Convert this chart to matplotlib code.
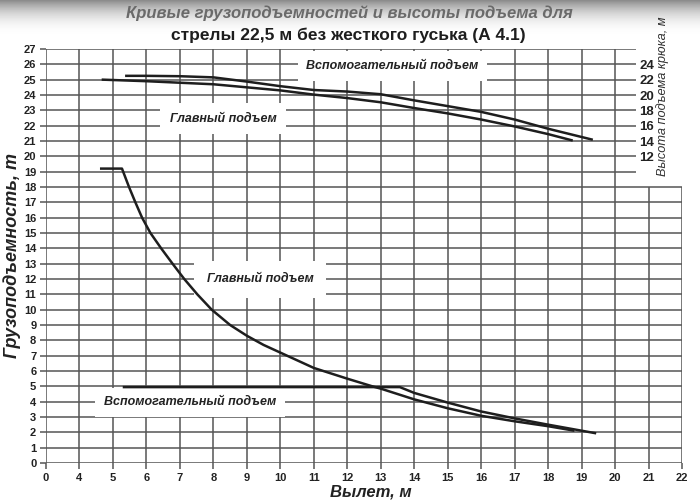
import numpy as np
import matplotlib
matplotlib.use('Agg')
import matplotlib.pyplot as plt

# x values are boom outreach in metres, loads in tonnes, hook heights in metres
main_load_x = [4.65, 5.27, 5.48, 5.67, 5.87, 6.12, 6.44, 6.78, 7.13, 7.52, 7.95,
               8.5, 9.0, 9.5, 10.0, 11.0, 12.0, 12.75, 13.0, 14.0, 15.0, 16.0,
               17.0, 18.0, 18.75]
main_load = [19.2, 19.2, 18.0, 17.0, 16.0, 15.0, 14.0, 13.0, 12.0, 11.0, 10.0,
             9.0, 8.3, 7.7, 7.2, 6.2, 5.5, 5.0, 4.85, 4.15, 3.57, 3.08,
             2.72, 2.4, 2.12]

aux_load_x = [5.33, 13.57, 14.0, 15.0, 16.0, 17.0, 18.0, 19.4]
aux_load = [4.95, 4.95, 4.57, 3.94, 3.36, 2.91, 2.5, 1.95]

main_height_x = [4.7, 6, 7, 8, 9, 10, 11, 12, 13, 14, 15, 16, 17, 18, 18.7]
main_height = [22.0, 21.8, 21.6, 21.4, 21.0, 20.6, 20.05, 19.6, 19.05, 18.3,
               17.6, 16.8, 15.9, 14.9, 14.1]

aux_height_x = [5.4, 6, 7, 8, 9, 10, 11, 12, 13, 14, 15, 16, 17, 18, 19.3]
aux_height = [22.5, 22.5, 22.45, 22.3, 21.75, 21.15, 20.65, 20.45, 20.1, 19.3,
              18.55, 17.8, 16.8, 15.6, 14.2]

x_ticks = [0, 4, 5, 6, 7, 8, 9, 10, 11, 12, 13, 14, 15, 16, 17, 18, 19, 20, 21, 22]
y_ticks = list(range(0, 28))
height_ticks = list(range(12, 25, 2))

title1 = 'Кривые грузоподъемностей и высоты подъема для'
title2 = 'стрелы 22,5 м без жесткого гуська (А 4.1)'

plt.rcParams['font.family'] = ['Liberation Sans', 'DejaVu Sans']


def fwd(x):
    x = np.asarray(x, dtype=float)
    return np.where(x < 4, x / 4.0, x - 3.0)


def inv(p):
    p = np.asarray(p, dtype=float)
    return np.where(p < 1, p * 4.0, p + 3.0)


def to_height(v):
    return 2 * np.asarray(v) - 28


def from_height(h):
    return (np.asarray(h) + 28) / 2.0


fig = plt.figure(figsize=(7, 5), dpi=100)

# grey scan shading along the top edge
bg = fig.add_axes([0, 0.92, 1, 0.08], zorder=-5)
t = np.linspace(0, 1, 40).reshape(-1, 1)
bg.imshow(1 - 0.45 * t ** 2.5, aspect='auto', cmap='gray', vmin=0, vmax=1,
          origin='lower', extent=[0, 1, 0, 1])
bg.axis('off')

ax = fig.add_axes([46 / 700, 37 / 500, 636 / 700, 414 / 500])
ax.patch.set_alpha(0)
ax.set_xscale('function', functions=(fwd, inv))
ax.set_xlim(0, 22)
ax.set_ylim(0, 27)
for s in ax.spines.values():
    s.set_visible(False)

gc = '#555555'
cut_x = 20.62
ax.hlines([y for y in y_ticks if y <= 18], 0, 22, color=gc, lw=1.1, zorder=1)
ax.hlines([y for y in y_ticks if y > 18], 0, cut_x, color=gc, lw=1.1, zorder=1)
ax.vlines([x for x in x_ticks if x <= 20], 0, 27, color=gc, lw=1.1, zorder=1)
ax.vlines([x for x in x_ticks if x > 20], 0, 18, color=gc, lw=1.1, zorder=1)

ax.set_xticks(x_ticks)
ax.set_xticklabels([str(t) for t in x_ticks])
ax.set_yticks(y_ticks)
ax.tick_params(length=4, width=1.1, color=gc, pad=3, labelsize=8)
for lab in ax.get_xticklabels() + ax.get_yticklabels():
    lab.set_fontweight('bold')
    lab.set_color('#222222')

lc = '#1e1e1e'
ax.plot(main_load_x, main_load, color=lc, lw=1.8, zorder=4)
ax.plot(aux_load_x, aux_load, color=lc, lw=1.8, zorder=4)
ax.plot(main_height_x, from_height(main_height), color=lc, lw=1.8, zorder=4)
ax.plot(aux_height_x, from_height(aux_height), color=lc, lw=1.8, zorder=4)

lab_kw = dict(ha='center', va='center', fontsize=9, style='italic',
              fontweight='bold', color='#222222', zorder=3)
ax.text(13.35, 25.9, 'Вспомогательный подъем',
        bbox=dict(boxstyle='square,pad=0.7', fc='white', ec='none'), **lab_kw)
ax.text(8.29, 22.45, 'Главный подъем',
        bbox=dict(boxstyle='square,pad=0.75', fc='white', ec='none'), **lab_kw)
ax.text(9.39, 12.0, 'Главный подъем',
        bbox=dict(boxstyle='square,pad=1.0', fc='white', ec='none'), **lab_kw)
ax.text(7.30, 3.95, 'Вспомогательный подъем',
        bbox=dict(boxstyle='square,pad=0.7', fc='white', ec='none'), **lab_kw)

# hook height scale sits inside the frame, where the upper grid lines stop
sec = ax.secondary_yaxis(0.9245, functions=(to_height, from_height))
sec.set_yticks(height_ticks)
sec.tick_params(length=0, pad=4, labelsize=9.5)
for lab in sec.get_yticklabels():
    lab.set_fontweight('bold')
    lab.set_color('#222222')
for s in sec.spines.values():
    s.set_visible(False)

fig.text(663 / 700, 1 - 96 / 500, 'Высота подъема крюка, м', rotation=90,
         ha='center', va='center', fontsize=9.2, style='italic', color='#333333')

ax.set_ylabel('Грузоподъемность, т', fontsize=13, style='italic',
              fontweight='bold', color='#222222', va='center')
ax.yaxis.set_label_coords(-0.054, 0.5)
ax.set_xlabel('Вылет, м', fontsize=12, style='italic', fontweight='bold',
              color='#222222', va='center')
ax.xaxis.set_label_coords(0.51, -0.07)

fig.text(349 / 700, 1 - 13 / 500, title1, ha='center', va='center',
         fontsize=12, style='italic', fontweight='bold', color='#6a6a6a')
fig.text(348 / 700, 1 - 35 / 500, title2, ha='center', va='center',
         fontsize=12.5, fontweight='bold', color='#1e1e1e')

fig.savefig('out.png', dpi=100)
